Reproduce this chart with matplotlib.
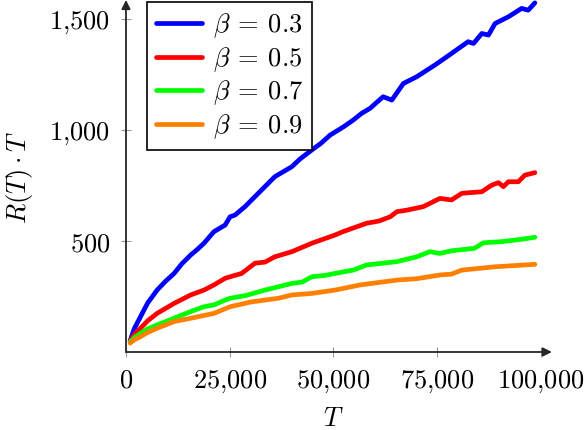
import matplotlib
matplotlib.use('Agg')
import matplotlib.pyplot as plt
from matplotlib.ticker import FuncFormatter

plt.rcParams['mathtext.fontset'] = 'cm'
plt.rcParams['font.family'] = 'DejaVu Serif'

# valori
T_03 = [1000, 2000, 3500, 5200, 7500, 9500, 11600, 13500, 15600, 17200, 18800, 21200,
        23900, 25100, 26300, 28700, 31900, 35900, 40000, 42000, 44800, 47000, 49200,
        52500, 54800, 56800, 58800, 62000, 64100, 66900, 70100, 74500, 78500, 82500,
        83800, 85800, 87400, 89000, 92200, 95400, 97000, 98600]
R_03 = [50, 105, 159, 220, 279, 318, 354, 398, 437, 462, 490, 542,
        572, 609, 617, 655, 715, 790, 835, 870, 910, 940, 977,
        1015, 1045, 1075, 1097, 1150, 1135, 1210, 1240, 1293, 1345, 1398,
        1390, 1435, 1428, 1480, 1510, 1548, 1540, 1573]

T_05 = [1000, 2000, 3500, 5200, 7500, 11600, 15600, 18800, 21200, 23900, 25100, 27900,
        31100, 33500, 35900, 40000, 44800, 49200, 50400, 52300, 58000, 61000, 63700,
        65300, 68000, 71700, 75700, 78500, 81000, 85800, 88200, 89800, 91000, 92200,
        94600, 96200, 98600]
R_05 = [50, 78, 107, 140, 174, 219, 257, 279, 302, 332, 339, 354,
        400, 405, 429, 452, 490, 519, 527, 542, 580, 590, 609,
        632, 640, 655, 692, 685, 715, 722, 752, 763, 745, 767,
        767, 797, 808]

T_07 = [1000, 2000, 3500, 5200, 7500, 11600, 15600, 18800, 21200, 23900, 25100, 29000,
        33500, 37000, 40000, 42500, 44800, 48000, 50400, 54800, 58000, 65300, 70100,
        73300, 75700, 78500, 84000, 86200, 90500, 95400, 98600]
R_07 = [45, 65, 84, 104, 122, 152, 182, 204, 212, 234, 242, 255,
        279, 295, 309, 315, 339, 345, 354, 369, 392, 407, 429,
        452, 444, 456, 467, 492, 497, 508, 517]

T_09 = [1000, 2000, 3500, 5200, 7500, 11600, 15600, 21200, 25100, 30000, 36700, 40000,
        44800, 50400, 56400, 65300, 70000, 75700, 78500, 81000, 89000, 98600]
R_09 = [40, 55, 69, 88, 107, 137, 152, 174, 204, 225, 242, 257,
        264, 279, 302, 324, 330, 347, 351, 369, 384, 395]

serie = [
    (T_03, R_03, r'$\beta\:=\:0.3$', '#0000ff'),
    (T_05, R_05, r'$\beta\:=\:0.5$', '#ff0000'),
    (T_07, R_07, r'$\beta\:=\:0.7$', '#00ff00'),
    (T_09, R_09, r'$\beta\:=\:0.9$', '#ff8000'),
]

fig = plt.figure(figsize=(5.86, 4.30), dpi=100)
ax = fig.add_axes([0.215, 0.1814, 0.7077, 0.813])

for x, y, lab, col in serie:
    ax.plot(x, y, color=col, lw=3.4, label=lab, clip_on=False,
            solid_capstyle='round', solid_joinstyle='round')

ax.set_xlim(0, 100000)
ax.set_ylim(0, 1575)
ax.set_xticks([0, 25000, 50000, 75000, 100000])
ax.set_yticks([500, 1000, 1500])

fmt = FuncFormatter(lambda v, p: '$' + f'{int(v):,}'.replace(',', '{,}') + '$')
ax.xaxis.set_major_formatter(fmt)
ax.yaxis.set_major_formatter(fmt)
ax.tick_params(direction='inout', length=7, width=0.8, color='#999999',
               labelsize=19, pad=8)

for s in ax.spines.values():
    s.set_visible(False)

# assi con freccia
ax.annotate('', xy=(1.027, 0), xytext=(0, 0), xycoords='axes fraction',
            arrowprops=dict(arrowstyle='-|>', color='#262626', lw=1.3,
                            mutation_scale=13, shrinkA=0, shrinkB=0))
ax.annotate('', xy=(0, 1.007), xytext=(0, 0), xycoords='axes fraction',
            arrowprops=dict(arrowstyle='-|>', color='#262626', lw=1.3,
                            mutation_scale=13, shrinkA=0, shrinkB=0))

ax.set_xlabel('$T$', fontsize=19, labelpad=8)
ax.set_ylabel(r'$R(T)\cdot T$', fontsize=19, labelpad=10)

leg = ax.legend(loc='upper left', bbox_to_anchor=(0.05, 1.0), borderaxespad=0,
                fontsize=19, handlelength=1.75, handletextpad=0.4,
                labelspacing=0.18, borderpad=0.35, fancybox=False,
                framealpha=1, edgecolor='black')
leg.get_frame().set_linewidth(1.2)

plt.savefig('out.png', dpi=100)
